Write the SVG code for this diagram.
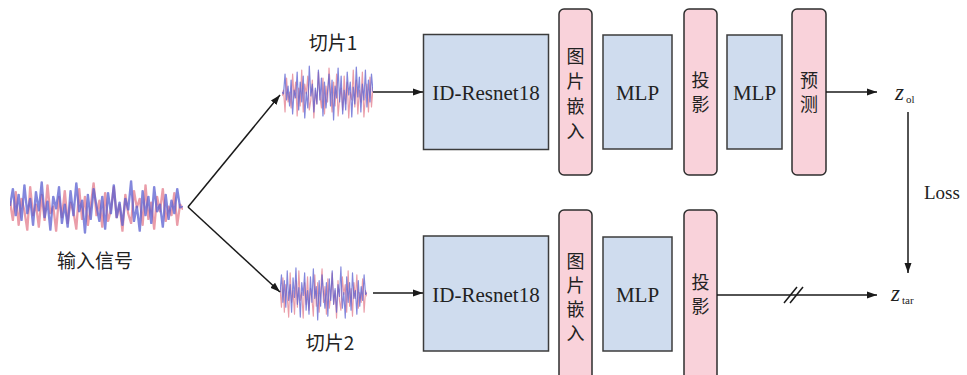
<svg xmlns="http://www.w3.org/2000/svg" width="967" height="375" viewBox="0 0 967 375">
<style>
.blue{fill:#cfdcee;stroke:#3c3c3c;stroke-width:1.5}
.pink{fill:#f9d2da;stroke:#2e2e2e;stroke-width:1.5}
.ln{stroke:#1a1a1a;stroke-width:1.5;fill:none}
.sr{fill:none;stroke:#e58494;stroke-width:1.2;stroke-opacity:0.8;stroke-linejoin:round}
.sb{fill:none;stroke:#5a5fd0;stroke-width:1.2;stroke-opacity:0.75;stroke-linejoin:round}
.serif{font-family:'Liberation Serif','Times New Roman',serif;fill:#222}
.cjk{font-family:'Noto Sans CJK SC',sans-serif;fill:#222}
</style>
<defs>
<marker id="ah" viewBox="0 0 10 10" refX="10" refY="5" markerWidth="10" markerHeight="10" markerUnits="userSpaceOnUse" orient="auto">
<path d="M0,1.5 L10,5 L0,8.5 Z" fill="#1a1a1a"/>
</marker>
<symbol id="sig" viewBox="0 0 90 60" preserveAspectRatio="none">
<polyline class="sr" points="0,25 1.5,45 3,15 4.5,50 6,22 7.5,35 9,55 10.5,10 12,40 13.5,28 15,52 16.5,18 18,45 19.5,8 21,38 22.5,30 24,56 25.5,20 27,42 28.5,14 30,48 31.5,26 33,36 34.5,54 36,12 37.5,44 39,20 40.5,50 42,30 43.5,6 45,40 46.5,24 48,52 49.5,16 51,46 52.5,34 54,10 55.5,42 57,28 58.5,56 60,18 61.5,38 63,48 64.5,14 66,32 67.5,22 69,50 70.5,8 72,44 73.5,26 75,54 76.5,20 78,36 79.5,12 81,46 82.5,30 84,40 85.5,16 87,50 88.5,28 90,34"/>
<polyline class="sb" points="0,30 1.5,12 3,40 4.5,18 6,45 7.5,8 9,38 10.5,22 12,50 13.5,15 15,35 16.5,5 18,42 19.5,25 21,55 22.5,20 24,33 25.5,10 27,48 28.5,28 30,52 31.5,14 33,40 34.5,6 36,36 37.5,24 39,58 40.5,18 42,44 43.5,12 45,30 46.5,46 48,20 49.5,54 51,16 52.5,38 54,8 55.5,42 57,26 58.5,50 60,22 61.5,34 63,4 64.5,46 66,30 67.5,56 69,14 70.5,40 72,20 73.5,48 75,10 76.5,36 78,28 79.5,52 81,18 82.5,44 84,24 85.5,38 87,12 88.5,32 90,30"/>
</symbol>
</defs>

<g id="signal-input">
<use href="#sig" x="10" y="177" width="173" height="58"/>
<text class="cjk" x="95" y="268" text-anchor="middle" font-size="19">输入信号</text>
</g>
<g id="slice1">
<use href="#sig" x="282" y="62" width="91" height="60" transform="translate(655,0) scale(-1,1)"/>
<text class="cjk" x="333" y="50" text-anchor="middle" font-size="19">切片1</text>
</g>
<g id="slice2">
<use href="#sig" x="280" y="263" width="87" height="59"/>
<text class="cjk" x="330" y="350" text-anchor="middle" font-size="19">切片2</text>
</g>

<g class="serif" font-size="21" text-anchor="middle">
<g id="top-resnet"><rect class="blue" x="423.5" y="34.5" width="125" height="115"/><text x="486" y="100">ID-Resnet18</text></g>
<g id="top-mlp1"><rect class="blue" x="603" y="35" width="69" height="114"/><text x="637.5" y="100">MLP</text></g>
<g id="top-mlp2"><rect class="blue" x="727" y="35" width="55" height="114"/><text x="754.5" y="100">MLP</text></g>
<g id="bot-resnet"><rect class="blue" x="423.5" y="236" width="125" height="115"/><text x="486" y="302">ID-Resnet18</text></g>
<g id="bot-mlp"><rect class="blue" x="603" y="237" width="69" height="114"/><text x="637.5" y="302">MLP</text></g>
</g>

<g class="cjk" font-size="18" text-anchor="middle">
<g id="top-embed"><rect class="pink" x="559" y="9" width="33" height="166" rx="5"/>
<text x="575.5" y="63">图</text><text x="575.5" y="88">片</text><text x="575.5" y="113">嵌</text><text x="575.5" y="138">入</text></g>
<g id="top-proj"><rect class="pink" x="684" y="9" width="33" height="166" rx="5"/>
<text x="700.5" y="87">投</text><text x="700.5" y="111">影</text></g>
<g id="top-pred"><rect class="pink" x="792" y="9" width="34" height="166" rx="5"/>
<text x="809" y="87">预</text><text x="809" y="111">测</text></g>
<g id="bot-embed"><rect class="pink" x="559" y="210" width="33" height="172" rx="5"/>
<text x="575.5" y="268">图</text><text x="575.5" y="292">片</text><text x="575.5" y="316">嵌</text><text x="575.5" y="340">入</text></g>
<g id="bot-proj"><rect class="pink" x="684" y="210" width="33" height="172" rx="5"/>
<text x="700.5" y="289">投</text><text x="700.5" y="313">影</text></g>
</g>

<g class="serif">
<g id="z-ol"><text x="895" y="100" font-size="23" font-style="italic">z</text><text x="906" y="103" font-size="11">ol</text></g>
<g id="z-tar"><text x="891" y="301" font-size="23" font-style="italic">z</text><text x="902" y="304" font-size="11">tar</text></g>
<g id="loss-label"><text x="924" y="199" font-size="19">Loss</text></g>
</g>

<g id="connectors">
<line class="ln" x1="188" y1="207" x2="280" y2="95" marker-end="url(#ah)"/>
<line class="ln" x1="188" y1="207" x2="280" y2="292" marker-end="url(#ah)"/>
<line class="ln" x1="373" y1="92" x2="423" y2="92" marker-end="url(#ah)"/>
<line class="ln" x1="373" y1="293" x2="423" y2="293" marker-end="url(#ah)"/>
<line class="ln" x1="826" y1="92" x2="877" y2="92" marker-end="url(#ah)"/>
<line class="ln" x1="717" y1="295" x2="877" y2="295" marker-end="url(#ah)"/>
<line class="ln" x1="784" y1="303" x2="797" y2="287"/>
<line class="ln" x1="790" y1="303" x2="803" y2="287"/>
<line class="ln" x1="908" y1="112" x2="908" y2="273" marker-end="url(#ah)"/>
</g>
</svg>
